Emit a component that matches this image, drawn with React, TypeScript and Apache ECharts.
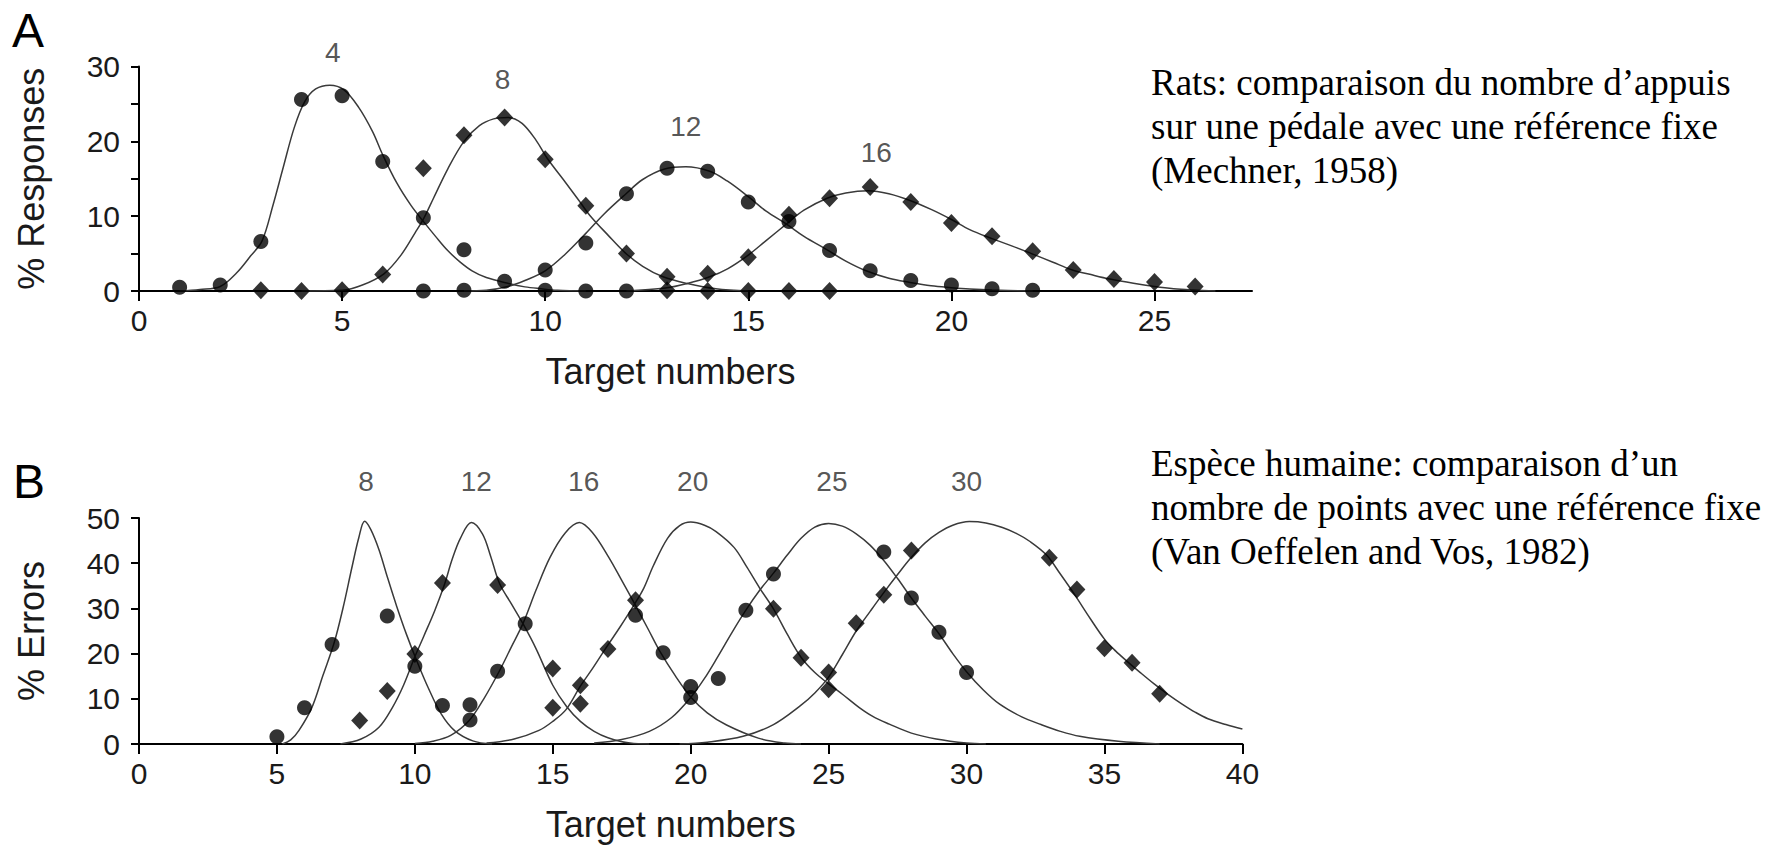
import React, { useEffect, useRef } from "react";
import * as echarts from "echarts";

// ---------- Panel A: rats, lever presses vs. fixed reference (Mechner, 1958) ----------
const ratTargets = ["4", "8", "12", "16"];
const ratTicksX = [0, 5, 10, 15, 20, 25];
const ratTicksY = [0, 5, 10, 15, 20, 25, 30];
const ratLabelsY = [0, 10, 20, 30];

// observed % responses per target number
const ratObs4 = [[1, 0.5], [2, 0.8], [3, 6.6], [4, 25.6], [5, 26.1], [6, 17.3], [7, 9.8], [8, 5.5], [9, 1.3], [10, 0.1], [11, 0], [12, 0]];
const ratObs8 = [[3, 0.1], [4, 0], [5, 0.1], [6, 2.2], [7, 16.4], [8, 20.8], [9, 23.2], [10, 17.6], [11, 11.4], [12, 5.0], [13, 1.9], [14, 0], [15, 0], [16, 0], [17, 0]];
const ratObs12 = [[7, 0], [8, 0.1], [10, 2.8], [11, 6.4], [12, 13.0], [13, 16.4], [14, 16.0], [15, 11.9], [16, 9.3], [17, 5.4], [18, 2.7], [19, 1.4], [20, 0.8], [21, 0.3], [22, 0.1]];
const ratObs16 = [[13, 0.1], [14, 2.3], [15, 4.5], [16, 10.2], [17, 12.4], [18, 13.9], [19, 11.9], [20, 9.1], [21, 7.3], [22, 5.3], [23, 2.8], [24, 1.6], [25, 1.2], [26, 0.6]];

// fitted curves
const ratFit4 = [[1, 0], [1.5, 0.2], [2, 0.6], [2.4, 2.4], [2.75, 4.7], [3.03, 6.7], [3.3, 11.5], [3.55, 16.5], [3.82, 21.8], [4.08, 25.3], [4.35, 27], [4.7, 27.5], [5.04, 26.9], [5.4, 24.6], [5.75, 21.3], [6.0, 18.2], [6.35, 14.4], [6.7, 11.4], [7.0, 9.3], [7.3, 7.3], [7.6, 5.4], [7.9, 3.9], [8.2, 2.7], [8.55, 1.8], [9.1, 1.0], [9.5, 0.55], [9.9, 0.3], [10.3, 0.1], [11, 0]];
const ratFit8 = [[4, 0], [5, 0.1], [5.5, 0.8], [6.03, 2.3], [6.45, 4.8], [6.8, 7.8], [7.0, 9.6], [7.25, 12.4], [7.6, 16.3], [8.0, 20.0], [8.38, 22.1], [8.73, 23.0], [9.08, 23.2], [9.43, 22.4], [9.78, 20.1], [10.04, 17.8], [10.5, 14.5], [10.83, 12.1], [11.1, 10.1], [11.54, 7.5], [11.97, 5.1], [12.4, 3.3], [12.9, 1.9], [13.5, 1.0], [14.2, 0.3], [15, 0]];
const ratFit12 = [[8, 0], [8.55, 0.1], [9.08, 0.6], [9.5, 1.4], [10.0, 2.7], [10.48, 4.85], [11.0, 7.7], [11.45, 10.3], [11.97, 12.9], [12.4, 14.9], [12.94, 16.3], [13.46, 16.6], [14.05, 16.0], [14.48, 14.7], [15.0, 12.6], [15.43, 10.7], [15.95, 8.9], [16.37, 7.3], [16.94, 5.5], [17.4, 4.0], [17.9, 2.7], [18.46, 1.7], [18.98, 1.15], [19.5, 0.7], [20, 0.45], [20.45, 0.27], [21, 0.13], [22, 0]];
const ratFit16 = [[12, 0], [12.96, 0.4], [13.5, 1.0], [14.05, 1.9], [14.5, 3.0], [15.0, 4.8], [15.43, 6.7], [15.95, 9.0], [16.37, 10.8], [16.94, 12.4], [17.4, 13.1], [17.95, 13.4], [18.46, 13.0], [18.98, 12.1], [19.5, 10.9], [20.0, 9.55], [20.45, 8.2], [21.0, 7.0], [21.5, 6.0], [21.97, 5.0], [22.5, 3.85], [22.96, 2.85], [23.5, 2.1], [23.9, 1.6], [24.48, 1.03], [25.0, 0.6], [25.47, 0.3], [25.95, 0.13], [26.5, 0]];

// ---------- Panel B: humans, dot numerosity vs. fixed reference (Van Oeffelen & Vos, 1982) ----------
const humTargets = ["8", "12", "16", "20", "25", "30"];
const humTicksX = [0, 5, 10, 15, 20, 25, 30, 35, 40];
const humTicksY = [0, 10, 20, 30, 40, 50];

// observed % errors per target number
const humObs8 = [[5, 1.6], [6, 8.0], [7, 22.0], [9, 28.3], [10, 17.2], [11, 8.5], [12, 8.7]];
const humObs12 = [[8, 5.2], [9, 11.7], [10, 19.9], [11, 35.6], [13, 35.2], [15, 16.7], [16, 8.9]];
const humObs16 = [[12, 5.3], [13, 16.1], [14, 26.6], [18, 28.5], [19, 20.2], [20, 12.7]];
const humObs20 = [[15, 8.0], [16, 13.0], [17, 21.0], [18, 31.8], [23, 29.9], [24, 19.1], [25, 15.8]];
const humObs25 = [[20, 10.3], [21, 14.5], [22, 29.6], [23, 37.6], [27, 42.5], [28, 32.3], [29, 24.7], [30, 15.8]];
const humObs30 = [[25, 12.1], [26, 26.7], [27, 33.0], [28, 42.8], [33, 41.2], [34, 34.2], [35, 21.2], [36, 18.0], [37, 11.1]];

// fitted curves
const humFit8 = [[5.2, 0], [5.5, 0.9], [5.8, 3.0], [6.27, 8.1], [6.67, 15.2], [7.08, 22.5], [7.4, 30.2], [7.72, 39.1], [7.97, 45.7], [8.18, 49.3], [8.4, 47.5], [8.7, 43], [9.0, 37], [9.34, 30.5], [9.7, 24.2], [10.07, 18.4], [10.48, 12.5], [10.96, 6.6], [11.45, 2.9], [12.1, 0.7], [12.8, 0]];
const humFit12 = [[7.3, 0], [8.05, 1.1], [8.7, 3.7], [9.18, 8.0], [9.59, 13.0], [10.0, 19.3], [10.32, 23.8], [10.72, 29.5], [11.08, 35.4], [11.35, 40.8], [11.65, 45.5], [12.05, 49.0], [12.45, 46.5], [12.75, 41.5], [13.07, 35.5], [13.5, 31.0], [13.93, 26.5], [14.4, 21.0], [15.0, 13.0], [15.5, 8.3], [16.0, 5.0], [16.5, 2.8], [17.0, 1.4], [17.8, 0.2], [18.5, 0]];
const humFit16 = [[10.0, 0.1], [10.65, 0.6], [11.3, 1.9], [11.97, 5.2], [12.5, 10.0], [13.06, 16.1], [13.5, 21.5], [13.93, 26.8], [14.39, 34], [14.9, 41.3], [15.45, 46.7], [15.96, 49.0], [16.45, 46.7], [17.03, 41.3], [17.5, 36.2], [17.97, 31.0], [18.45, 25.5], [18.9, 20.3], [19.45, 15.0], [20.0, 10.4], [20.6, 6.9], [21.3, 4.2], [22.45, 1.3], [23.4, 0.2], [24, 0]];
const humFit20 = [[12.6, 0.2], [13.6, 1.1], [14.5, 3.0], [15.0, 5.0], [15.48, 7.6], [16.0, 12.8], [16.45, 16.8], [16.9, 21.0], [17.45, 26.0], [17.97, 31.0], [18.3, 34.5], [18.65, 39.5], [19.16, 45.5], [19.6, 48.3], [20.0, 49.1], [20.5, 48.4], [20.92, 47.0], [21.57, 43.5], [22.05, 39], [22.5, 34.5], [23.0, 29.9], [23.5, 24.3], [24.0, 19.2], [24.5, 15.8], [25.0, 13.3], [25.5, 11.0], [26.1, 8.1], [26.6, 6.1], [27.2, 4.4], [28.0, 2.4], [28.9, 1.1], [30.0, 0.2], [30.7, 0]];
const humFit25 = [[16.5, 0.2], [17.5, 1.0], [18.5, 2.8], [19.3, 5.8], [20.0, 10.3], [20.5, 14.5], [21.0, 19.5], [21.5, 24.7], [22.0, 29.6], [22.5, 34.0], [23.0, 37.8], [23.5, 41.8], [24.0, 45.5], [24.5, 48.0], [25.0, 48.8], [25.5, 48.2], [26.0, 46.5], [26.5, 44.0], [27.0, 40.6], [27.5, 36.6], [28.0, 32.3], [28.5, 28.3], [29.0, 24.4], [29.5, 20.0], [30.0, 16.0], [30.6, 12.0], [31.2, 8.8], [32.0, 6.0], [32.7, 4.3], [33.4, 2.8], [34.1, 1.7], [35.5, 0.6], [37.0, 0]];
const humFit30 = [[19.6, 0], [20.6, 0.4], [21.9, 1.7], [23.0, 4.3], [24.0, 8.6], [24.5, 11.3], [25.0, 14.8], [25.5, 19.8], [26.0, 25.0], [26.5, 29.3], [27.0, 33.5], [27.5, 37.5], [28.0, 41.3], [28.5, 44.5], [29.0, 46.8], [29.5, 48.4], [30.1, 49.2], [30.7, 48.9], [31.3, 47.9], [31.8, 46.6], [32.3, 44.8], [32.9, 41.8], [33.4, 37.6], [33.9, 33.2], [34.5, 27.6], [35.0, 23.2], [35.4, 20.6], [35.8, 18.4], [36.3, 15.8], [36.8, 13.3], [37.3, 11.0], [37.8, 8.9], [38.3, 7.0], [38.75, 5.6], [39.4, 4.3], [40.0, 3.3]];

// ---------- styling ----------
const SANS = '"Liberation Sans", Arial, Helvetica, sans-serif';
const SERIF = '"Liberation Serif", "Times New Roman", Times, serif';
const INK = "#000000";
const TEXT = "#1a1a1a";
const CURVE = "#3a3a3a";

// where each target's number sits above its curve (data coordinates)
const ratPeakLabelAt = [[4.77, 31.9], [8.95, 28.3], [13.46, 21.95], [18.15, 18.55]];
const humPeakLabelAt = [[8.23, 58], [12.23, 58], [16.12, 58], [20.07, 58], [25.12, 58], [30.0, 58]];

const curve = (data: number[][], axis: number) => ({
  type: "line",
  xAxisIndex: axis,
  yAxisIndex: axis,
  data,
  smooth: 0.35,
  symbol: "none",
  silent: true,
  z: 2,
  lineStyle: { color: CURVE, width: 1.5 },
});

const dots = (data: number[][], axis: number, shape: "circle" | "diamond") => ({
  type: "scatter",
  xAxisIndex: axis,
  yAxisIndex: axis,
  data,
  symbol: shape,
  symbolSize: shape === "circle" ? 15 : [17, 18],
  silent: true,
  z: 3,
  itemStyle: { color: INK },
});

const peakLabels = (names: string[], at: number[][], axis: number) => ({
  type: "scatter",
  xAxisIndex: axis,
  yAxisIndex: axis,
  data: names.map((n, i) => ({ name: n, value: at[i] })),
  symbolSize: 1,
  clip: false,
  silent: true,
  z: 4,
  itemStyle: { color: "rgba(0,0,0,0)" },
  label: {
    show: true,
    position: "inside",
    formatter: "{b}",
    fontFamily: SANS,
    fontSize: 28,
    color: "#2a2a2a",
  },
});

const axisLine = { show: true, onZero: false, lineStyle: { color: INK, width: 2 } };
const tickStyle = { color: INK, width: 2 };
const labelFont = { fontFamily: SANS, fontSize: 30, color: TEXT };
const nameFont = { fontFamily: SANS, fontSize: 36, color: TEXT };

const option = {
  animation: false,
  backgroundColor: "#ffffff",
  grid: [
    { left: 139, top: 66.5, width: 1113, height: 224.5 },
    { left: 139, top: 518, width: 1103.4, height: 226 },
  ],
  xAxis: [
    {
      gridIndex: 0,
      type: "value",
      min: 0,
      max: 27.4,
      axisLine,
      axisTick: { show: true, customValues: ratTicksX, length: 10, lineStyle: tickStyle },
      axisLabel: { ...labelFont, customValues: ratTicksX, margin: 14 },
      splitLine: { show: false },
      name: "Target numbers",
      nameLocation: "middle",
      nameGap: 62,
      nameTextStyle: { ...nameFont, padding: [0, 50, 0, 0] },
    },
    {
      gridIndex: 1,
      type: "value",
      min: 0,
      max: 40,
      axisLine,
      axisTick: { show: true, customValues: humTicksX, length: 10, lineStyle: tickStyle },
      axisLabel: { ...labelFont, customValues: humTicksX, margin: 14 },
      splitLine: { show: false },
      name: "Target numbers",
      nameLocation: "middle",
      nameGap: 62,
      nameTextStyle: { ...nameFont, padding: [0, 40, 0, 0] },
    },
  ],
  yAxis: [
    {
      gridIndex: 0,
      type: "value",
      min: 0,
      max: 30,
      axisLine,
      axisTick: { show: true, customValues: ratTicksY, length: 8, lineStyle: tickStyle },
      axisLabel: { ...labelFont, customValues: ratLabelsY, margin: 19 },
      splitLine: { show: false },
      name: "% Responses",
      nameLocation: "middle",
      nameGap: 90,
      nameTextStyle: nameFont,
    },
    {
      gridIndex: 1,
      type: "value",
      min: 0,
      max: 50,
      axisLine,
      axisTick: { show: true, customValues: humTicksY, length: 8, lineStyle: tickStyle },
      axisLabel: { ...labelFont, customValues: humTicksY, margin: 19 },
      splitLine: { show: false },
      name: "% Errors",
      nameLocation: "middle",
      nameGap: 90,
      nameTextStyle: nameFont,
    },
  ],
  graphic: [
    { type: "text", left: 12, top: 6, style: { text: "A", fontFamily: SANS, fontSize: 48, fill: "#000" } },
    { type: "text", left: 13, top: 457, style: { text: "B", fontFamily: SANS, fontSize: 48, fill: "#000" } },
    {
      type: "text",
      left: 1151,
      top: 60,
      style: {
        text: "Rats: comparaison du nombre d\u2019appuis\nsur une p\u00e9dale avec une r\u00e9f\u00e9rence fixe\n(Mechner, 1958)",
        fontFamily: SERIF,
        fontSize: 37,
        lineHeight: 44,
        fill: "#000",
      },
    },
    {
      type: "text",
      left: 1151,
      top: 441,
      style: {
        text: "Esp\u00e8ce humaine: comparaison d\u2019un\nnombre de points avec une r\u00e9f\u00e9rence fixe\n(Van Oeffelen and Vos, 1982)",
        fontFamily: SERIF,
        fontSize: 37,
        lineHeight: 44,
        fill: "#000",
      },
    },
  ],
  series: [
    curve(ratFit4, 0),
    curve(ratFit8, 0),
    curve(ratFit12, 0),
    curve(ratFit16, 0),
    dots(ratObs4, 0, "circle"),
    dots(ratObs8, 0, "diamond"),
    dots(ratObs12, 0, "circle"),
    dots(ratObs16, 0, "diamond"),
    peakLabels(ratTargets, ratPeakLabelAt, 0),

    curve(humFit8, 1),
    curve(humFit12, 1),
    curve(humFit16, 1),
    curve(humFit20, 1),
    curve(humFit25, 1),
    curve(humFit30, 1),
    dots(humObs8, 1, "circle"),
    dots(humObs12, 1, "diamond"),
    dots(humObs16, 1, "circle"),
    dots(humObs20, 1, "diamond"),
    dots(humObs25, 1, "circle"),
    dots(humObs30, 1, "diamond"),
    peakLabels(humTargets, humPeakLabelAt, 1),
  ],
};

export default function App() {
  const ref = useRef<HTMLDivElement>(null);

  useEffect(() => {
    document.body.style.margin = "0";
    const chart = echarts.init(ref.current as HTMLDivElement, null, { renderer: "svg" });
    chart.setOption(option as any);
    return () => chart.dispose();
  }, []);

  return <div ref={ref} style={{ width: 1781, height: 847, background: "#fff" }} />;
}
